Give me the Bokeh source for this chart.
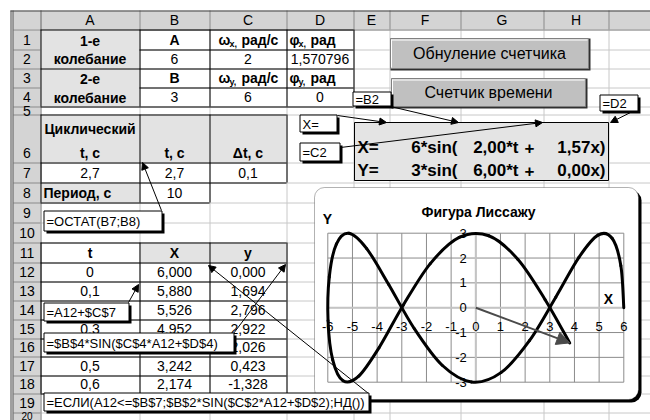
from bokeh.plotting import figure
from bokeh.models import Range1d, Arrow, NormalHead, BoxAnnotation
from bokeh.core.properties import value
from bokeh.embed import file_html
from bokeh.resources import INLINE

# ---------------- data ----------------
col_labels = ["A", "B", "C", "D", "E", "F", "G", "H"]
row_labels = ["1", "2", "3", "4", "5", "6", "7", "8", "9", "10",
              "11", "12", "13", "14", "15", "16", "17", "18", "19", "20"]

osc_names = ["1-е", "колебание", "2-е", "колебание"]
amp_labels = ["А", "В"]
amp_values = ["6", "3"]
omega_values = ["2", "6"]
phi_values = ["1,570796", "0"]
param_subs = ["x,", "y,"]

time_headers = ["Циклический", "t, с", "t, с", "Δt, с"]
time_values = ["2,7", "2,7", "0,1"]
period_label = "Период, с"
period_value = "10"

table_headers = ["t", "X", "y"]
table_t = ["0", "0,1", "0,2", "0,3", "0,4", "0,5", "0,6"]
table_x = ["6,000", "5,880", "5,526", "4,952", "4,180", "3,242", "2,174"]
table_y = ["0,000", "1,694", "2,796", "2,922", "2,026", "0,423", "-1,328"]

formula_x = ["X=", "6*sin(", "2,00*t", "+", "1,57x)"]
formula_y = ["Y=", "3*sin(", "6,00*t", "+", "0,00x)"]

buttons = ["Обнуление счетчика", "Счетчик времени"]
callouts = ["X=", "=C2", "=B2", "=D2", "=ОСТАТ(B7;B8)", "=A12+$C$7",
            "=$B$4*SIN($C$4*A12+$D$4)",
            "=ЕСЛИ(A12<=$B$7;$B$2*SIN($C$2*A12+$D$2);НД())"]

chart_title = "Фигура Лиссажу"
x_ticks = [-6, -5, -4, -3, -2, -1, 0, 1, 2, 3, 4, 5, 6]
y_ticks = [-3, -2, -1, 0, 1, 2, 3]
x_tick_labels = ["-6", "-5", "-4", "-3", "-2", "-1", "0", "1", "2", "3", "4", "5", "6"]
y_tick_labels = ["-3", "-2", "-1", "0", "1", "2", "3"]

# X, y for t = 0 ... 2.7 step 0.1 (cyclic t <= 2.7), later rows are #N/A
curve_x = [6.000, 5.880, 5.526, 4.952, 4.180, 3.242, 2.174, 1.020, -0.175, -1.363,
           -2.497, -3.531, -4.424, -5.141, -5.653, -5.940, -5.990, -5.801, -5.381, -4.746,
           -3.922, -2.942, -1.844, -0.673, 0.525, 1.702, 2.811, 3.808]
curve_y = [0.000, 1.694, 2.796, 2.922, 2.026, 0.423, -1.328, -2.615, -2.988, -2.318,
           -0.838, 0.935, 2.381, 2.996, 2.564, 1.236, -0.523, -2.100, -2.943, -2.757,
           -1.610, 0.101, 1.776, 2.831, 2.897, 1.951, 0.323, -1.417]

# ---------------- layout (image pixel coordinates) ----------------
FONT = "Liberation Sans"
COLS = [13, 40, 139, 209, 286, 353, 389, 460, 543, 608, 660]
ROWS = [10, 29, 49, 68, 87, 106, 114, 162, 182, 202, 222, 242, 262, 281, 300,
        319, 338, 356, 375, 393, 412, 431]

GRID_C = "#c8c8c8"
HDR_FILL = "#d4d4d4"
HDR_LINE = "#8a8a8a"
CELL_GRAY = "#e3e3e3"

CW, CH = 650, 420
p = figure(width=CW, height=CH, x_range=Range1d(0, CW), y_range=Range1d(CH, 0),
           output_backend="svg", toolbar_location=None, min_border=0,
           x_axis_location=None, y_axis_location=None)
p.outline_line_color = None
p.background_fill_color = "white"
p.border_fill_color = "white"
p.grid.visible = False


def quads(l, r, t, b, fill, line=None, lw=1, level="image", **kw):
    rr = p.quad(left=l, right=r, top=t, bottom=b, fill_color=fill,
                line_color=line, line_width=lw, **kw)
    rr.level = level
    return rr


def segs(x0, y0, x1, y1, color, lw=1, level="image", **kw):
    rr = p.segment(x0=x0, y0=y0, x1=x1, y1=y1, line_color=color, line_width=lw, **kw)
    rr.level = level
    return rr


def hlines(items, color, lw=1, level="image"):
    segs([a for _, a, _ in items], [y + 0.5 for y, _, _ in items],
         [b for _, _, b in items], [y + 0.5 for y, _, _ in items], color, lw, level)


def vlines(items, color, lw=1, level="image"):
    segs([x + 0.5 for x, _, _ in items], [a for _, a, _ in items],
         [x + 0.5 for x, _, _ in items], [b for _, _, b in items], color, lw, level)


def texts(x, y, t, size=14, bold=False, align="center", color="black", level="image", **kw):
    rr = p.text(x=x, y=y, text=t, text_font=value(FONT), text_font_size=value(f"{size}px"),
                text_font_style="bold" if bold else "normal", text_align=align,
                text_baseline="middle", text_color=color, **kw)
    rr.level = level
    return rr


def rowc(k):
    return ROWS[k + 1] - 10


def colc(i):
    return (COLS[i] + COLS[i + 1]) / 2


# sheet gridlines
vlines([(x, 29, 420) for x in COLS[1:-1]], GRID_C)
hlines([(y, 40, 650) for y in ROWS[1:-1]], GRID_C)

# headers
quads([13], [650], [10], [29], HDR_FILL)
quads([13], [40], [29], [420], HDR_FILL)
vlines([(x, 10, 29) for x in COLS[1:-1]], HDR_LINE)
hlines([(29, 13, 650)], HDR_LINE)
hlines([(y, 13, 40) for y in ROWS[2:-1]], HDR_LINE)
vlines([(40, 10, 420)], HDR_LINE)
vlines([(10, 10, 420), (12, 10, 420)], "#404040")
hlines([(10, 10, 650)], "#404040")
texts([colc(i) for i in range(1, 9)], [19.5] * 8, col_labels)
rl_y = [rowc(k) for k in range(1, 20)]
rl_y[4] = 110
texts([26.5] * 19, rl_y, row_labels[:19])
texts([26.5], [415], row_labels[19:], size=10)

# gray cells
quads([40, 40, 40, 40, 139], [139, 139, 286, 139, 286], [29, 68, 114, 182, 242],
      [68, 106, 162, 202, 262], CELL_GRAY)

# black borders
bh = [(29, 40, 353), (49, 139, 353), (68, 40, 353), (87, 139, 353), (106, 40, 353),
      (114, 40, 286), (162, 40, 286), (182, 40, 286), (202, 40, 209)]
bh += [(y, 40, 286) for y in ROWS[11:20]]
bv = [(x, 29, 106) for x in [40, 139, 209, 286, 353]]
bv += [(x, 114, 182) for x in [40, 139, 209, 286]]
bv += [(x, 182, 202) for x in [40, 139, 209]]
bv += [(x, 242, 393) for x in [40, 139, 209, 286]]
hlines(bh, "black")
vlines(bv, "black")

# parameter block
texts([colc(1)] * 4, [40, 58, 78, 97], osc_names, bold=True)
texts([colc(2)] * 2, [rowc(1), rowc(3)], amp_labels, bold=True)
texts([colc(2)] * 2, [rowc(2), rowc(4)], amp_values)
texts([colc(3)] * 2, [rowc(2), rowc(4)], omega_values)
texts([colc(4)] * 2, [rowc(2), rowc(4)], phi_values)
texts([218, 218], [rowc(1), rowc(3)], ["ω", "ω"], bold=True, align="left")
texts([229, 229], [rowc(1) + 4, rowc(3) + 4], param_subs, size=9, bold=True, align="left")
texts([241, 241], [rowc(1), rowc(3)], ["рад/с", "рад/с"], bold=True, align="left")
texts([289, 289], [rowc(1), rowc(3)], ["φ", "φ"], bold=True, align="left")
texts([298, 298], [rowc(1) + 4, rowc(3) + 4], param_subs, size=9, bold=True, align="left")
texts([310, 310], [rowc(1), rowc(3)], ["рад", "рад"], bold=True, align="left")

# time block
texts([colc(1), colc(1), colc(2), colc(3)], [128, rowc(6), rowc(6), rowc(6)], time_headers, bold=True)
texts([colc(1), colc(2), colc(3)], [rowc(7)] * 3, time_values)
texts([43], [rowc(8)], [period_label], bold=True, align="left")
texts([colc(2)], [rowc(8)], [period_value])

# table
texts([colc(1), colc(2), colc(3)], [rowc(11)] * 3, table_headers, bold=True)
ty = [rowc(k) for k in range(12, 19)]
texts([colc(1)] * 7, ty, table_t)
texts([colc(2)] * 7, ty, table_x)
texts([colc(3)] * 7, ty, table_y)

# formula display
quads([354], [608], [122], [180], "#e4e4e4", line="black")
fx_pos = [357, 457, 518, 529, 605]
fx_align = ["left", "right", "right", "center", "right"]
for xx, al, a, b in zip(fx_pos, fx_align, formula_x, formula_y):
    texts([xx, xx], [147, 170], [a, b], size=17, bold=True, align=al)

# buttons
button_boxes = [(390, 38, 588, 68), (391, 78, 585, 106)]
for (l, t, r, b), lab in zip(button_boxes, buttons):
    quads([l], [r + 2], [t], [b + 2], "#303030")
    quads([l], [r], [t], [b], "#c0c0c0", line="#808080")
    segs([l + 1, l + 1], [t + 1.5, t + 1], [r - 1, l + 1], [t + 1.5, b - 1], "white")
    texts([(l + r) / 2], [(t + b) / 2], [lab], size=16)

# chart box
try:
    shadow = BoxAnnotation(left=317, right=641, top=190, bottom=402, fill_color="black",
                           fill_alpha=1, line_color=None, border_radius=10, level="underlay")
    cbox = BoxAnnotation(left=314, right=638, top=187, bottom=399, fill_color="white",
                         fill_alpha=1, line_color="black", line_width=1, border_radius=10,
                         level="underlay")
except Exception:
    shadow = BoxAnnotation(left=317, right=641, top=190, bottom=402, fill_color="black",
                           fill_alpha=1, line_color=None, level="underlay")
    cbox = BoxAnnotation(left=314, right=638, top=187, bottom=399, fill_color="white",
                         fill_alpha=1, line_color="black", line_width=1, level="underlay")
p.add_layout(shadow)
p.add_layout(cbox)

# chart data ranges mapped onto the plot-area pixels
PX0, PX1 = 327.3, 623.3
PY0, PY1 = 381.7, 232.7
xmin, xmax, ymin, ymax = x_ticks[0], x_ticks[-1], y_ticks[0], y_ticks[-1]
sx = (PX1 - PX0) / (xmax - xmin)
sy = (PY0 - PY1) / (ymax - ymin)
p.extra_x_ranges = {"lx": Range1d(xmin - PX0 / sx, xmax + (CW - PX1) / sx)}
p.extra_y_ranges = {"ly": Range1d(ymin - (CH - PY0) / sy, ymax + PY1 / sy)}
LK = dict(x_range_name="lx", y_range_name="ly")

segs(x_ticks, [ymin] * len(x_ticks), x_ticks, [ymax] * len(x_ticks), "#8c8c8c", level="glyph", **LK)
segs([xmin] * len(y_ticks), y_ticks, [xmax] * len(y_ticks), y_ticks, "#8c8c8c", level="glyph", **LK)
segs([0, xmin], [ymin, 0], [0, xmax], [ymax, 0], "#c4c4c4", lw=2, level="glyph", **LK)

texts(x_ticks, [0] * len(x_ticks), x_tick_labels, size=13, level="glyph", y_offset=19, **LK)
texts([0] * len(y_ticks), y_ticks, y_tick_labels, size=13, align="right", level="glyph",
      x_offset=-9, **LK)
texts([478], [211], [chart_title], size=14, bold=True, level="glyph")
texts([327], [218], ["Y"], size=14, bold=True, level="glyph")
texts([608], [298], ["X"], size=14, bold=True, level="glyph")

# smoothed (Excel-like) curve through the points
n = len(curve_x)
bx0, by0, bx1, by1, c0x, c0y, c1x, c1y = [], [], [], [], [], [], [], []
for i in range(n - 1):
    im, ip = max(i - 1, 0), min(i + 2, n - 1)
    bx0.append(curve_x[i]); by0.append(curve_y[i])
    bx1.append(curve_x[i + 1]); by1.append(curve_y[i + 1])
    c0x.append(curve_x[i] + (curve_x[i + 1] - curve_x[im]) / 6)
    c0y.append(curve_y[i] + (curve_y[i + 1] - curve_y[im]) / 6)
    c1x.append(curve_x[i + 1] - (curve_x[ip] - curve_x[i]) / 6)
    c1y.append(curve_y[i + 1] - (curve_y[ip] - curve_y[i]) / 6)
bz = p.bezier(x0=bx0, y0=by0, x1=bx1, y1=by1, cx0=c0x, cy0=c0y, cx1=c1x, cy1=c1y,
              line_color="black", line_width=3, line_cap="round", **LK)

# radius vector to the current point
p.add_layout(Arrow(x_start=0, y_start=0, x_end=curve_x[-1], y_end=curve_y[-1],
                   line_color="#4a4a4a", line_width=2,
                   end=NormalHead(size=13, fill_color="#4a4a4a", line_color="#4a4a4a"), **LK))

# callout text boxes
cbxs = [(299, 114, 336, 131), (299, 142, 339, 160), (352, 91, 390, 105), (599, 94, 637, 110),
        (43, 210, 161, 230), (43, 302, 128, 320), (43, 332, 233, 351), (43, 392, 368, 410)]
for (l, t, r, b), lab in zip(cbxs, callouts):
    quads([l + 3], [r + 3], [t + 3], [b + 3], "black", level="overlay")
    quads([l + 0.5], [r + 0.5], [t + 0.5], [b + 0.5], "white", line="black", level="overlay")
    texts([l + 3], [(t + b) / 2 + 1], [lab], size=13, align="left", level="overlay")

# callout arrows
arrows = [(337, 115, 386, 122), (390, 106, 458, 122), (340, 147, 542, 122), (632, 111, 610, 122),
          (161, 210, 142, 162), (128, 302, 138, 284), (233, 333, 285, 264), (368, 393, 208, 265)]
for x0, y0, x1, y1 in arrows:
    p.add_layout(Arrow(x_start=x0, y_start=y0, x_end=x1, y_end=y1, line_color="black",
                       line_width=1, end=NormalHead(size=7, fill_color="black", line_color="black")))

open("out.html", "w").write(file_html(p, INLINE))
